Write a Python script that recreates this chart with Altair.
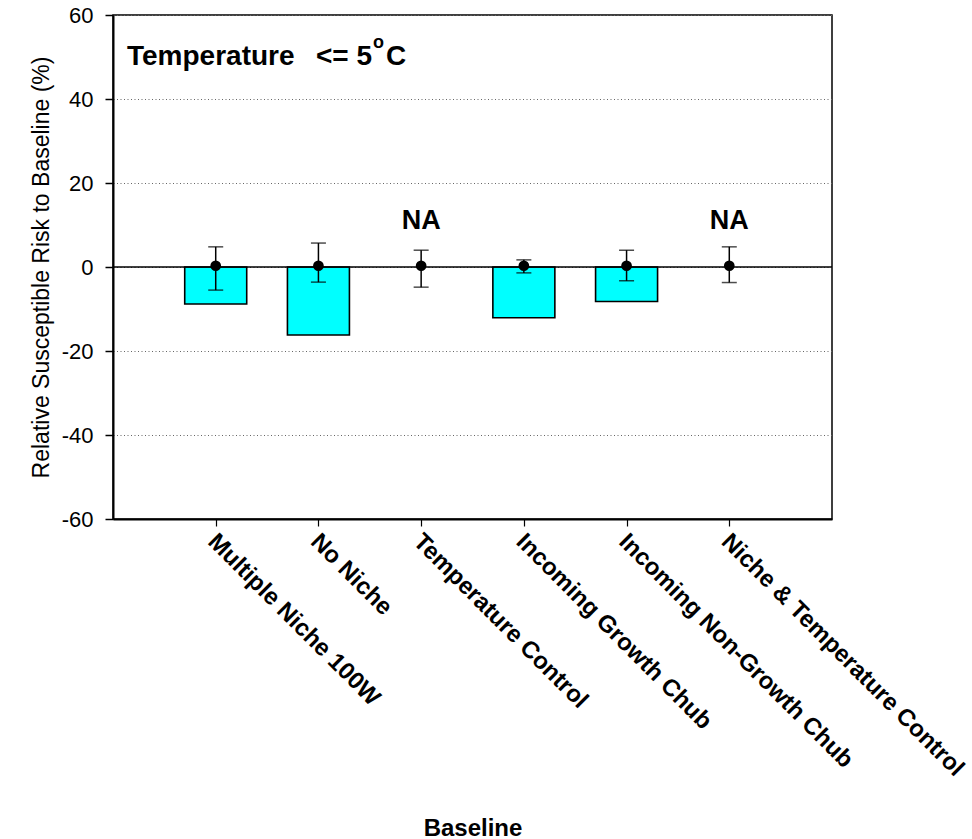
import altair as alt
import pandas as pd

# ---- data ----
categories = ["Multiple Niche 100W", "No Niche", "Temperature Control",
              "Incoming Growth Chub", "Incoming Non-Growth Chub",
              "Niche & Temperature Control"]
bar_values = [-8.8, -16.2, None, -12.1, -8.2, None]
point_values = [0.3, 0.3, 0.3, 0.3, 0.3, 0.3]
err_upper = [4.8, 5.7, 4.0, 1.7, 4.0, 4.8]
err_lower = [-5.5, -3.6, -4.8, -1.4, -3.3, -3.7]
na_labels = ["", "", "NA", "", "", "NA"]
na_label_y = [9.0, 9.0, 9.0, 9.0, 9.0, 9.0]
y_ticks = [-60, -40, -20, 0, 20, 40, 60]
zero_line = [0]

FONT = "Liberation Sans"
Y_TITLE = "Relative Susceptible Risk to Baseline (%)"

df = pd.DataFrame({
    "category": categories,
    "bar": bar_values,
    "point": point_values,
    "upper": err_upper,
    "lower": err_lower,
    "na": na_labels,
    "na_y": na_label_y,
})

x_axis = alt.Axis(
    title="Baseline", titleFont=FONT, titleFontSize=24, titleFontWeight="bold",
    titleColor="black", titleX=359.5, titleY=316, titleBaseline="alphabetic",
    labelAngle=45, labelAlign="left", labelBaseline="top",
    labelFont=FONT, labelFontSize=24, labelFontWeight="bold", labelColor="black",
    labelLimit=600, labelOverlap=False, labelBound=False, labelFlush=False,
    labelPadding=3, labelOffset=4,
    tickSize=7, tickColor="black", tickWidth=1.2,
    domainColor="black", domainWidth=2, grid=False,
)
x_scale = alt.Scale(type="point", padding=1, domain=categories)

y_scale = alt.Scale(domain=[-60, 60], nice=False, zero=False)
y_axis = alt.Axis(
    values=y_ticks, title=Y_TITLE, labelExpr="'' + datum.value",
    titleFont=FONT, titleFontSize=23, titleFontWeight="normal", titleColor="black",
    titleAngle=270, titleX=-65, titleY=252, titleBaseline="alphabetic", titleAlign="center",
    labelFont=FONT, labelFontSize=22, labelColor="black", labelPadding=12,
    tickSize=8, tickColor="black", tickWidth=1.5,
    domainColor="black", domainWidth=2,
    grid=True, gridColor="#666666", gridDash=[1, 2.5], gridWidth=1,
)


def X():
    return alt.X("category:N", sort=categories, scale=x_scale, axis=x_axis, title="Baseline")


def Y(field):
    return alt.Y(field, type="quantitative", scale=y_scale, axis=y_axis, title=Y_TITLE)


base = alt.Chart(df)

bars = base.transform_filter("isValid(datum.bar)").mark_bar(
    size=62, color="#00FFFF", stroke="black", strokeWidth=1.6
).encode(x=X(), y=Y("bar"))

zero = alt.Chart(pd.DataFrame({"z": zero_line})).mark_rule(
    color="black", strokeWidth=1.6
).encode(y=Y("z"))

err_rule = base.mark_rule(color="black", strokeWidth=1.5).encode(
    x=X(), y=Y("lower"), y2="upper:Q",
)
cap_up = base.mark_tick(color="black", thickness=1.5, size=15).encode(
    x=X(), y=Y("upper"),
)
cap_lo = base.mark_tick(color="black", thickness=1.5, size=15).encode(
    x=X(), y=Y("lower"),
)
dots = base.mark_circle(color="black", opacity=1, size=115).encode(
    x=X(), y=Y("point"),
)
na_text = base.transform_filter("datum.na != ''").mark_text(
    font=FONT, fontSize=27, fontWeight="bold", color="black",
    align="center", baseline="alphabetic"
).encode(x=X(), y=Y("na_y"), text="na:N")

title_parts = ["Temperature", "<= 5", "o", "C"]
title_df = pd.DataFrame({"t": ["x"]})


def title_piece(txt, px, py, size):
    return alt.Chart(title_df).mark_text(
        font=FONT, fontSize=size, fontWeight="bold", color="black",
        align="left", baseline="alphabetic", text=txt
    ).encode(x=alt.value(px), y=alt.value(py))


t1 = title_piece(title_parts[0], 14, 50, 28)
t2 = title_piece(title_parts[1], 203, 50, 28)
t3 = title_piece(title_parts[2], 260, 33, 18)
t4 = title_piece(title_parts[3], 273, 50, 28)

chart = alt.layer(
    bars, zero, err_rule, cap_up, cap_lo, dots, na_text, t1, t2, t3, t4
).properties(
    width=719, height=504,
    autosize=alt.AutoSizeParams(type="none"),
    padding={"left": 113, "top": 15, "right": 140, "bottom": 320},
    background="white",
).configure(
    font=FONT
).configure_view(
    stroke="black", strokeWidth=1.5
)

chart.save("out.html", embed_options={"renderer": "svg", "actions": False})
